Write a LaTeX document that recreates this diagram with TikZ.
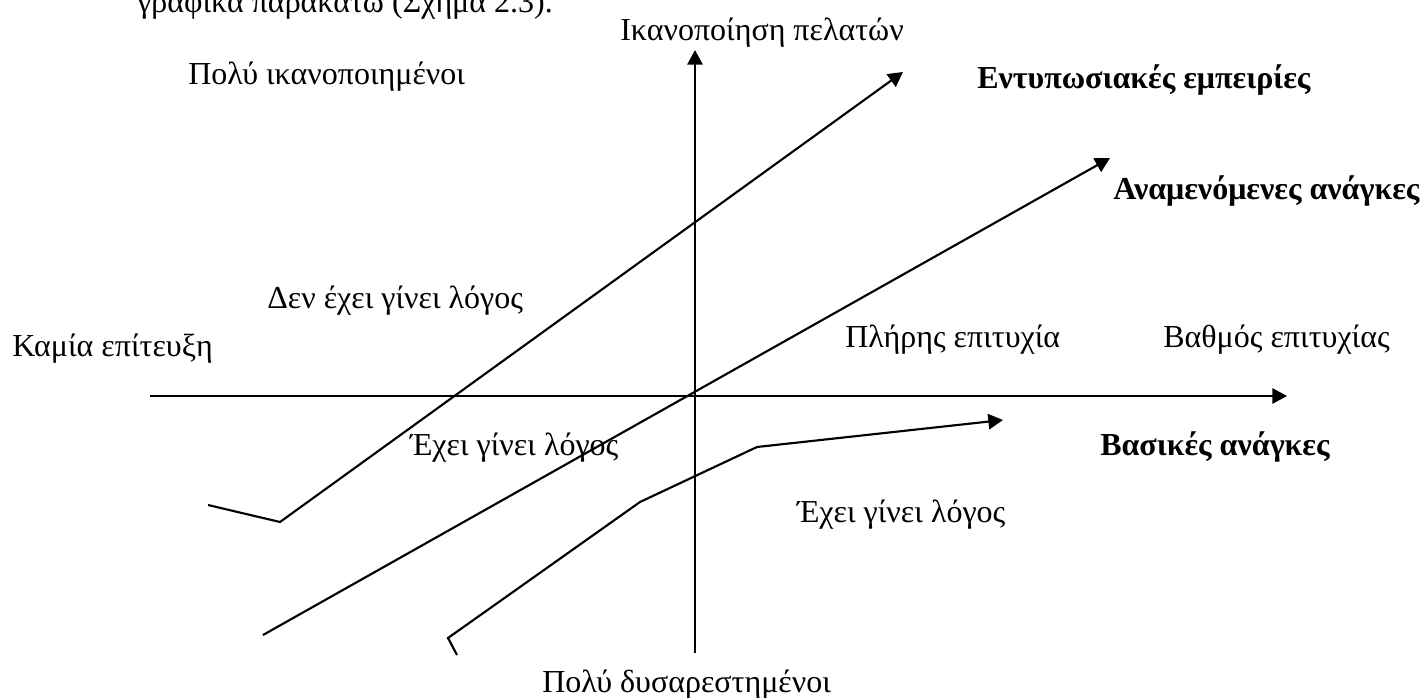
\documentclass[tikz,border=0pt]{standalone}
\usepackage{fontspec}
\setmainfont{Liberation Serif}
\usetikzlibrary{arrows.meta}
\newcommand{\diagfont}{\fontsize{24}{28}\selectfont}

\begin{document}
\begin{tikzpicture}[
        x=0.75pt, y=-0.75pt,
        lbl/.style={font=\diagfont, inner sep=0pt, anchor=base west},
        boldlbl/.style={lbl, font=\diagfont\bfseries},
        axis/.style={line width=1.6pt, -{Triangle[length=11pt, width=11.5pt]}},
        curve/.style={line width=1.6pt, line join=miter, -{Triangle[length=11pt, width=11.5pt]}}
      ]
      \useasboundingbox (0,0) rectangle (1427,698);

      % axes
      \coordinate (xs) at (150,396);
      \coordinate (xe) at (1287,396);
      \coordinate (ys) at (695,653);
      \coordinate (ye) at (695,50);
      \draw[axis] (xs) -- (xe);
      \draw[axis] (ys) -- (ye);

      % curves
      \coordinate (e1) at (208,505);
      \coordinate (e2) at (280,522);
      \coordinate (e3) at (903,72);
      \coordinate (a1) at (263,635);
      \coordinate (a2) at (1110,158);
      \coordinate (b1) at (457,655);
      \coordinate (b2) at (448,638);
      \coordinate (b3) at (640,502);
      \coordinate (b4) at (757,447);
      \coordinate (b5) at (1003,420);
      \draw[curve] (e1) -- (e2) -- (e3);
      \draw[curve] (a1) -- (a2);
      \draw[curve] (b1) -- (b2) -- (b3) -- (b4) -- (b5);

      % labels
      \node[lbl] (prev) at (137,13) {γραφικά παρακάτω (Σχήμα 2.3).};
      \node[lbl] (ytitle) at (620,41) {Ικανοποίηση πελατών};
      \node[lbl] (top) at (188,85) {Πολύ ικανοποιημένοι};
      \node[lbl] (bottom) at (542,692) {Πολύ δυσαρεστημένοι};
      \node[lbl] (none) at (12,357) {Καμία επίτευξη};
      \node[lbl] (full) at (845,348) {Πλήρης επιτυχία};
      \node[lbl] (xtitle) at (1163,348) {Βαθμός επιτυχίας};
      \node[lbl] (notsaid) at (267,309) {Δεν έχει γίνει λόγος};
      \node[lbl] (said1) at (410,455) {Έχει γίνει λόγος};
      \node[lbl] (said2) at (797,522) {Έχει γίνει λόγος};
      \node[boldlbl] (exc) at (977,89) {Εντυπωσιακές εμπειρίες};
      \node[boldlbl] (exp) at (1113,200) {Αναμενόμενες ανάγκες};
      \node[boldlbl] (basic) at (1100,455) {Βασικές ανάγκες};
    \end{tikzpicture}
\end{document}
